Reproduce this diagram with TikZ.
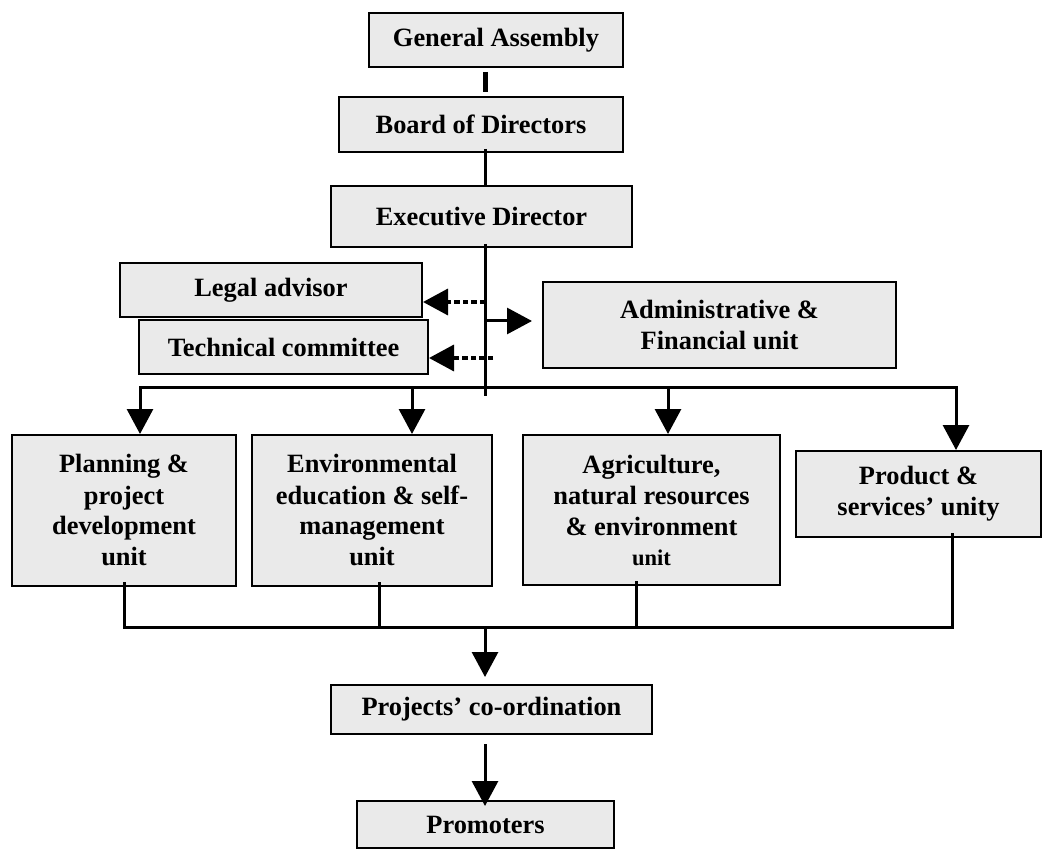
\documentclass[tikz,border=0pt]{standalone}
\usepackage{fontspec}
\setmainfont{Liberation Serif}
\usetikzlibrary{arrows.meta}
\definecolor{boxgray}{HTML}{EAEAEA}
\begin{document}
\begin{tikzpicture}[x=1pt,y=-1pt,
  >={Triangle[length=25pt,width=26pt]},
  unitbox/.style={draw, line width=2pt, fill=boxgray, inner sep=0pt, align=center,
    font=\bfseries\fontsize{26.4}{31}\selectfont},
  conn/.style={line width=3pt},
  heavylink/.style={line width=5pt},
  arr/.style={conn, ->},
  dotarr/.style={line width=3.5pt, dash pattern=on 5.5pt off 3pt, ->},
]
\useasboundingbox (0,0) rectangle (1047,850);

% governing bodies
\node[unitbox, minimum width=254pt, minimum height=54pt] (ga) at (496,40) {General Assembly};
\node[unitbox, minimum width=284pt, minimum height=55pt] (bod) at (481,124.5) {Board of Directors};
\node[unitbox, minimum width=301pt, minimum height=61pt] (ed) at (481.5,216.5) {Executive Director};

% staff and advisory bodies
\node[unitbox, minimum width=302pt, minimum height=54pt] (legal) at (271,290) {Legal advisor};
\node[unitbox, minimum width=289pt, minimum height=54pt] (tech) at (283.5,347) {Technical committee};
\node[unitbox, minimum width=353pt, minimum height=86pt] (admin) at (719.5,325) {Administrative \&\\Financial unit};

% operating units
\node[unitbox, minimum width=224pt, minimum height=151pt] (plan) at (124,510.5)
  {Planning \&\\project\\development\\unit};
\node[unitbox, minimum width=240pt, minimum height=151pt] (env) at (372,510.5)
  {Environmental\\education \& self-\\management\\unit};
\node[unitbox, minimum width=257pt, minimum height=150pt] (agri) at (651.5,510)
  {Agriculture,\\natural resources\\\& environment\\[-1pt]{\fontsize{22.5}{26}\selectfont unit}};
\node[unitbox, minimum width=245pt, minimum height=86pt] (prod) at (918.5,494)
  {Product \&\\services’ unity};

% field level
\node[unitbox, minimum width=321pt, minimum height=49pt] (proj) at (491.5,709.5) {Projects’ co-ordination};
\node[unitbox, minimum width=257pt, minimum height=47pt] (promo) at (485.5,824.5) {Promoters};

% main spine
\coordinate (sp) at (485,396);
\draw[heavylink, shorten <=4pt, shorten >=4pt] (ga.south -| sp) -- (bod.north -| sp);
\draw[conn, shorten <=-4pt] (bod.south -| sp) -- (ed.north -| sp);
\draw[conn, shorten <=-4pt] (ed.south -| sp) -- (sp);

% advisory links
\coordinate (dl) at (485,302);
\draw[dotarr] (dl) -- (dl -| legal.east);
\coordinate (dt) at (493,358);
\draw[dotarr] (dt) -- (dt -| tech.east);
\coordinate (da) at (485,321);
\draw[arr, shorten >=10pt] (da) -- (da -| admin.west);

% distribution to the units
\coordinate (t1) at (140,387);
\coordinate (t2) at (412,387);
\coordinate (t3) at (668,387);
\coordinate (t4) at (956,387);
\draw[conn, <->] (t1 |- plan.north) -- (t1) -- (t4) -- (t4 |- prod.north);
\draw[arr] (t2) -- (t2 |- env.north);
\draw[arr] (t3) -- (t3 |- agri.north);

% collection from the units
\coordinate (u1) at (124,627);
\coordinate (u2) at (379,627);
\coordinate (u3) at (636,627);
\coordinate (u4) at (952,627);
\coordinate (u0) at (485,627);
\draw[conn, shorten <=-5pt, shorten >=-5pt] (u1 |- plan.south) -- (u1) -- (u4) -- (u4 |- prod.south);
\draw[conn, shorten <=-5pt] (u2 |- env.south) -- (u2);
\draw[conn, shorten <=-5pt] (u3 |- agri.south) -- (u3);
\draw[arr, shorten >=7pt] (u0) -- (u0 |- proj.north);
\draw[arr, shorten <=9pt, shorten >=-6pt] (proj.south -| sp) -- (promo.north -| sp);
\end{tikzpicture}
\end{document}
